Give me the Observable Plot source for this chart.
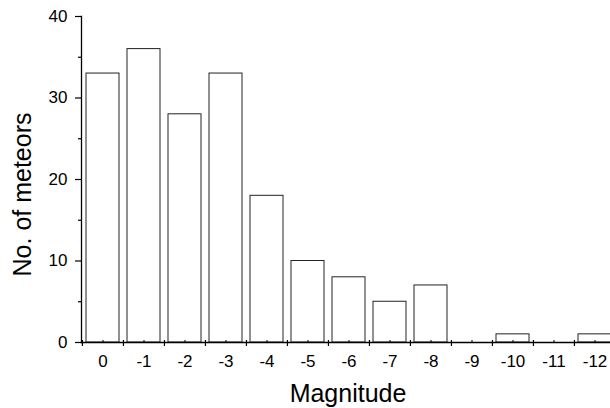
<!DOCTYPE html>
<html>
<head>
<meta charset="utf-8">
<script src="https://cdn.jsdelivr.net/npm/d3@7"></script>
<script src="https://cdn.jsdelivr.net/npm/@observablehq/plot@0.6"></script>
<style>
  html, body { margin: 0; padding: 0; background: #fff; }
  #chart svg { display: block; }
</style>
</head>
<body>
<div id="chart"></div>
<script>
const magnitudes = ["0", "-1", "-2", "-3", "-4", "-5", "-6", "-7", "-8", "-9", "-10", "-11", "-12"];
const counts = [33, 36, 28, 33, 18, 10, 8, 5, 7, 0, 1, 0, 1];
const yTicks = [0, 10, 20, 30, 40];
const yMinorTicks = [5, 15, 25, 35];
const xTitle = "Magnitude";
const yTitle = "No. of meteors";

const data = magnitudes.map((m, i) => ({magnitude: m, count: counts[i]}));

const plotW = 610, plotH = 408;
const mLeft = 81, mTop = 16, mBottom = 66;
const xRange = [mLeft, 615.5];
const step = (xRange[1] - xRange[0]) / magnitudes.length;

const chart = Plot.plot({
  width: plotW,
  height: plotH,
  marginLeft: mLeft,
  marginRight: 0,
  marginTop: mTop,
  marginBottom: mBottom,
  style: {fontFamily: "'Liberation Sans', Arial, sans-serif", fontSize: "17px", background: "white", color: "black", overflow: "hidden"},
  x: {domain: magnitudes, range: xRange, paddingInner: 0.2, paddingOuter: 0.1, axis: null},
  y: {domain: [0, 40], axis: null},
  marks: [
    Plot.barY(data, {x: "magnitude", y: "count", fill: "white", stroke: "#222", strokeWidth: 1}),
    Plot.axisX(magnitudes, {tickSize: 0, tickPadding: 12, fontSize: 17, label: null}),
    Plot.axisX(magnitudes, {tickSize: 6, dx: -step / 2, dy: -2, tickFormat: () => "", label: null, strokeWidth: 1.2}),
    Plot.axisX(magnitudes, {tickSize: 2, dy: -2, tickFormat: () => "", label: null}),
    Plot.axisY(yTicks, {tickSize: 6, tickPadding: 8, fontSize: 17, label: null, strokeWidth: 1.2}),
    Plot.axisY(yMinorTicks, {tickSize: 3, tickFormat: () => "", label: null, strokeWidth: 1.2}),
    Plot.frame({anchor: "left", strokeWidth: 1.3}),
    Plot.frame({anchor: "bottom", strokeWidth: 1.3}),
    Plot.text([xTitle], {frameAnchor: "bottom", dx: 2, dy: 51, fontSize: 25, lineAnchor: "middle", textAnchor: "middle"}),
    Plot.text([yTitle], {frameAnchor: "left", rotate: -90, dx: -58.5, dy: 15, fontSize: 25, lineAnchor: "middle", textAnchor: "middle"})
  ]
});
document.getElementById("chart").appendChild(chart);
</script>
</body>
</html>
